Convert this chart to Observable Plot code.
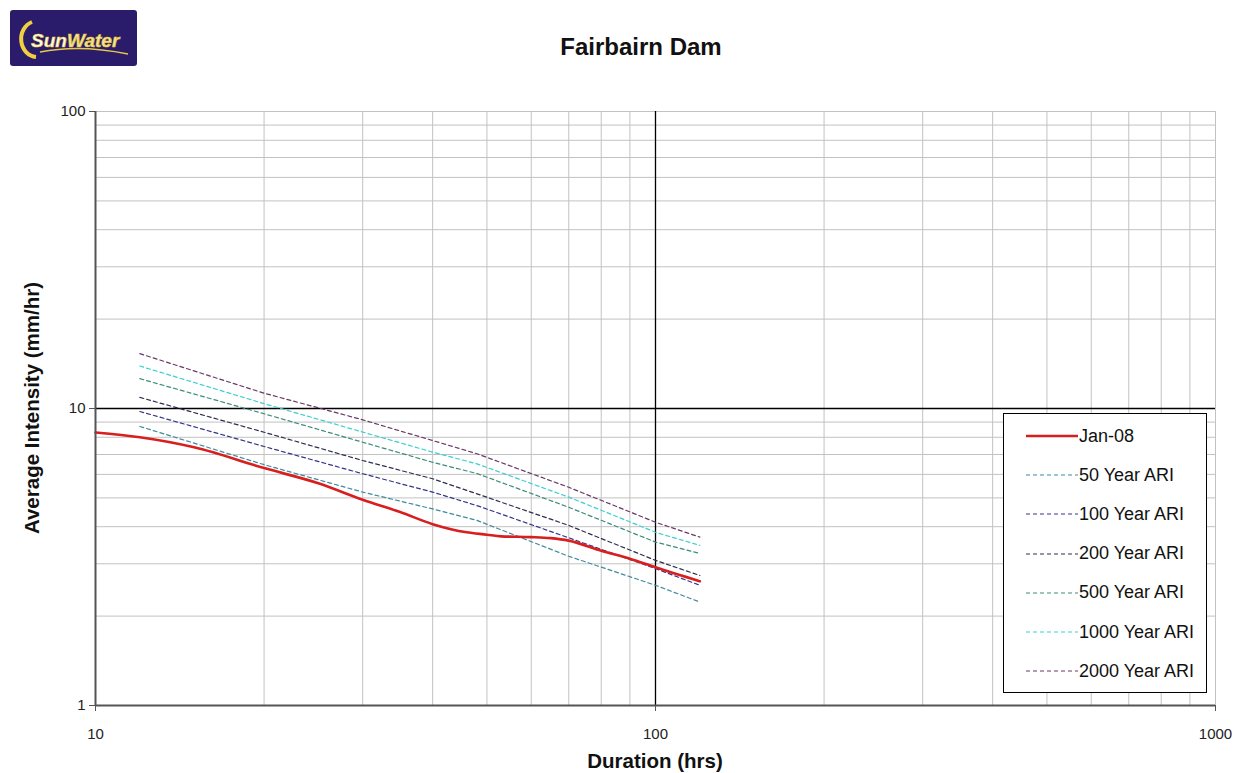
<!DOCTYPE html>
<html><head><meta charset="utf-8">
<script src="https://cdn.jsdelivr.net/npm/d3@7"></script>
<script src="https://cdn.jsdelivr.net/npm/@observablehq/plot@0.6"></script>
<style>
body{margin:0;background:#fff;font-family:"Liberation Sans",Arial,sans-serif;}
#wrap{position:relative;width:1234px;height:773px;overflow:hidden;}
#chart{position:absolute;left:0;top:0;}
#chart svg text{font-size:15px;}
#title{position:absolute;left:0;width:1282px;top:33px;text-align:center;font-weight:bold;font-size:24px;color:#111;}
#xlabel{position:absolute;left:0;width:1310px;top:749px;text-align:center;font-weight:bold;font-size:20.5px;color:#111;}
#ylabel{position:absolute;left:32px;top:408px;transform:translate(-50%,-50%) rotate(-90deg);white-space:nowrap;font-weight:bold;font-size:20.5px;color:#111;}
#legend{position:absolute;left:1003px;top:413px;width:202px;height:278px;border:1.5px solid #000;background:#fff;}
.item{position:absolute;left:0;height:20px;display:flex;align-items:center;font-size:18px;color:#111;}
.item svg{margin-left:22px;margin-right:1px;}
#logo{position:absolute;left:10px;top:10px;}
</style></head>
<body><div id="wrap">
<div id="chart"></div>
<div id="title">Fairbairn Dam</div>
<div id="xlabel">Duration (hrs)</div>
<div id="ylabel">Average Intensity (mm/hr)</div>
<div id="legend"></div>
<svg id="logo" width="128" height="57">
<rect x="0" y="0" width="127" height="56" rx="3" fill="#2a1c6a"/>
<path d="M22 12 A16 18 0 0 0 26 47" fill="none" stroke="#f0d040" stroke-width="4"/>
<path d="M30 42 Q70 34 118 44" fill="none" stroke="#e8c848" stroke-width="1.5"/>
<text x="21" y="37" font-family="Liberation Sans, Arial" font-style="italic" font-weight="bold" font-size="19" fill="#fff" stroke="#e8c020" stroke-width="0.6">Sun<tspan fill="#f0e6a0">Water</tspan></text>
</svg>
</div>
<script>
// Tick values
const xTicks = [10, 100, 1000];
const yTicks = [1, 10, 100];
const xMinor = [20,30,40,50,60,70,80,90,200,300,400,500,600,700,800,900,1000];
const yMinor = [2,3,4,5,6,7,8,9,20,30,40,50,60,70,80,90,100];

// ARI design curves (duration hrs -> mm/hr)
const ariDurations = [12, 20, 30, 40, 48, 70, 100, 120];
const ari50   = [8.7, 6.47, 5.23, 4.59, 4.20, 3.18, 2.54, 2.23];
const ari100  = [9.77, 7.45, 6.03, 5.23, 4.71, 3.67, 2.89, 2.54];
const ari200  = [10.9, 8.32, 6.68, 5.80, 5.16, 4.04, 3.08, 2.74];
const ari500  = [12.6, 9.6, 7.70, 6.59, 6.04, 4.65, 3.55, 3.25];
const ari1000 = [13.9, 10.38, 8.33, 7.13, 6.51, 5.03, 3.83, 3.46];
const ari2000 = [15.3, 11.26, 9.16, 7.8, 7.04, 5.43, 4.14, 3.69];

// Jan-08 event
const janDurations = [10, 12, 15, 20, 25, 30, 35, 40, 46, 50, 53, 60, 65, 70, 80, 90, 100, 120];
const jan08 = [8.3, 8.0, 7.4, 6.3, 5.6, 4.93, 4.48, 4.08, 3.83, 3.76, 3.71, 3.69, 3.66, 3.59, 3.32, 3.12, 2.92, 2.62];

const seriesNames = ["50 Year ARI","100 Year ARI","200 Year ARI","500 Year ARI","1000 Year ARI","2000 Year ARI"];
const seriesValues = [ari50, ari100, ari200, ari500, ari1000, ari2000];
const seriesColors = ["#3f8a9c","#35358a","#2e2e50","#3c8c7c","#3ccfd0","#6a3866"];

const ariData = seriesNames.flatMap((name, i) =>
  ariDurations.map((d, j) => ({name, d, v: seriesValues[i][j]})));
const janData = janDurations.map((d, i) => ({d, v: jan08[i]}));

const plot = Plot.plot({
  width: 1234, height: 773,
  marginLeft: 95, marginRight: 19, marginTop: 111, marginBottom: 68,
  style: {fontFamily: "Liberation Sans, Arial, sans-serif", fontSize: "15px", color: "#222", background: "transparent"},
  x: {type: "log", domain: [10, 1000]},
  y: {type: "log", domain: [1, 100]},
  color: {domain: seriesNames, range: seriesColors},
  marks: [
    Plot.ruleX(xMinor, {stroke: "#c2c2c2", strokeWidth: 1}),
    Plot.ruleY(yMinor, {stroke: "#c2c2c2", strokeWidth: 1}),
    Plot.ruleX([100], {stroke: "#000", strokeWidth: 1.3}),
    Plot.ruleY([10], {stroke: "#000", strokeWidth: 1.3}),
    Plot.line(ariData, {x: "d", y: "v", z: "name", stroke: "name", strokeWidth: 1.2, strokeDasharray: "4,3"}),
    Plot.line(janData, {x: "d", y: "v", stroke: "#d81e1e", strokeWidth: 2.6, curve: "monotone-x"}),
    Plot.ruleX([10], {stroke: "#555", strokeWidth: 2}),
    Plot.ruleY([1], {stroke: "#555", strokeWidth: 2}),
    Plot.axisX({ticks: xTicks, tickFormat: d => String(d), tickSize: 6, tickPadding: 17, stroke: "#555", label: null, fontSize: 15}),
    Plot.axisY({ticks: yTicks, tickFormat: d => String(d), tickSize: 6, tickPadding: 4, stroke: "#555", label: null, fontSize: 15})
  ]
});
document.getElementById("chart").appendChild(plot);

// Legend
const legend = document.getElementById("legend");
const legendItems = [{name: "Jan-08", color: "#d81e1e", dash: null, w: 2.6}]
  .concat(seriesNames.map((n, i) => ({name: n, color: seriesColors[i], dash: "4,3", w: 1.2})));
legendItems.forEach((it, i) => {
  const div = document.createElement("div");
  div.className = "item";
  div.style.top = (12 + i * 39.2) + "px";
  div.innerHTML = `<svg width="52" height="10"><line x1="0" x2="52" y1="5" y2="5" stroke="${it.color}" stroke-width="${it.w}" ${it.dash ? `stroke-dasharray="${it.dash}"` : ""}/></svg><span>${it.name}</span>`;
  legend.appendChild(div);
});
</script>
</body></html>
